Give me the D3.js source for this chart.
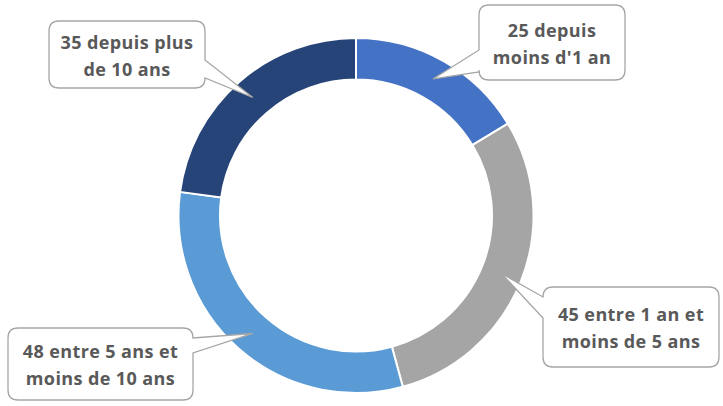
<!DOCTYPE html>
<html>
<head>
<meta charset="utf-8">
<script src="https://cdn.jsdelivr.net/npm/d3@7"></script>
<style>
  html, body { margin: 0; padding: 0; background: #fff; }
  svg { display: block; }
</style>
</head>
<body>
<svg id="chart" width="723" height="406"></svg>
<script>
// Répartition par ancienneté
const categories = ["depuis moins d'1 an", "entre 1 an et moins de 5 ans", "entre 5 ans et moins de 10 ans", "depuis plus de 10 ans"];
const values = [25, 45, 48, 35];
const labelLines = [
  ["25 depuis", "moins d'1 an"],
  ["45 entre 1 an et", "moins de 5 ans"],
  ["48 entre 5 ans et", "moins de 10 ans"],
  ["35 depuis plus", "de 10 ans"]
];
const colors = ["#4472C4", "#A5A5A5", "#5B9BD5", "#264478"];

// Callout boxes: rectangle and which side the pointer leaves from
const callouts = [
  { x: 479, y: 5,   w: 146, h: 75, side: "left",  b0: 50, b1: 72 },
  { x: 543, y: 287, w: 176, h: 80, side: "left",  b0: 297, b1: 318 },
  { x: 8,   y: 328, w: 185, h: 72, side: "right", b0: 338, b1: 353 },
  { x: 49,  y: 21,  w: 156, h: 67, side: "right", b0: 60, b1: 78 }
];

const cx = 356, cy = 215.5;
const outerR = 177.5, innerR = 136;

const svg = d3.select("#chart");
const g = svg.append("g").attr("transform", `translate(${cx},${cy})`);

const pie = d3.pie().sort(null).value(d => d)(values);
const arc = d3.arc().innerRadius(innerR).outerRadius(outerR);

g.selectAll("path.slice")
  .data(pie)
  .join("path")
  .attr("class", "slice")
  .attr("d", arc)
  .attr("fill", (d, i) => colors[i])
  .attr("stroke", "#fff")
  .attr("stroke-width", 2);

// Rounded rectangle with a wedge pointing at the slice
function calloutPath(c, tip) {
  const r = 10;
  const x0 = c.x, y0 = c.y, x1 = c.x + c.w, y1 = c.y + c.h;
  const p = d3.path();
  p.moveTo(x0 + r, y0);
  p.lineTo(x1 - r, y0);
  p.quadraticCurveTo(x1, y0, x1, y0 + r);
  if (c.side === "right") {
    p.lineTo(x1, c.b0);
    p.lineTo(tip[0], tip[1]);
    p.lineTo(x1, c.b1);
  }
  p.lineTo(x1, y1 - r);
  p.quadraticCurveTo(x1, y1, x1 - r, y1);
  p.lineTo(x0 + r, y1);
  p.quadraticCurveTo(x0, y1, x0, y1 - r);
  if (c.side === "left") {
    p.lineTo(x0, c.b1);
    p.lineTo(tip[0], tip[1]);
    p.lineTo(x0, c.b0);
  }
  p.lineTo(x0, y0 + r);
  p.quadraticCurveTo(x0, y0, x0 + r, y0);
  p.closePath();
  return p.toString();
}

pie.forEach((d, i) => {
  const c = callouts[i];
  const cent = arc.centroid(d);
  const tip = [cx + cent[0], cy + cent[1]];
  svg.append("path")
    .attr("d", calloutPath(c, tip))
    .attr("fill", "#fff")
    .attr("stroke", "#a6a6a6")
    .attr("stroke-width", 1.3);
  const t = svg.append("text")
    .attr("text-anchor", "middle")
    .attr("font-family", "'Open Sans', Lato, sans-serif")
    .attr("font-weight", "bold")
    .attr("font-size", 18)
    .attr("letter-spacing", 0.4)
    .attr("fill", "#595959");
  const midY = c.y + c.h / 2;
  labelLines[i].forEach((line, k) => {
    t.append("tspan")
      .attr("x", c.x + c.w / 2)
      .attr("y", midY - 6 + k * 27)
      .text(line);
  });
});
</script>
</body>
</html>
